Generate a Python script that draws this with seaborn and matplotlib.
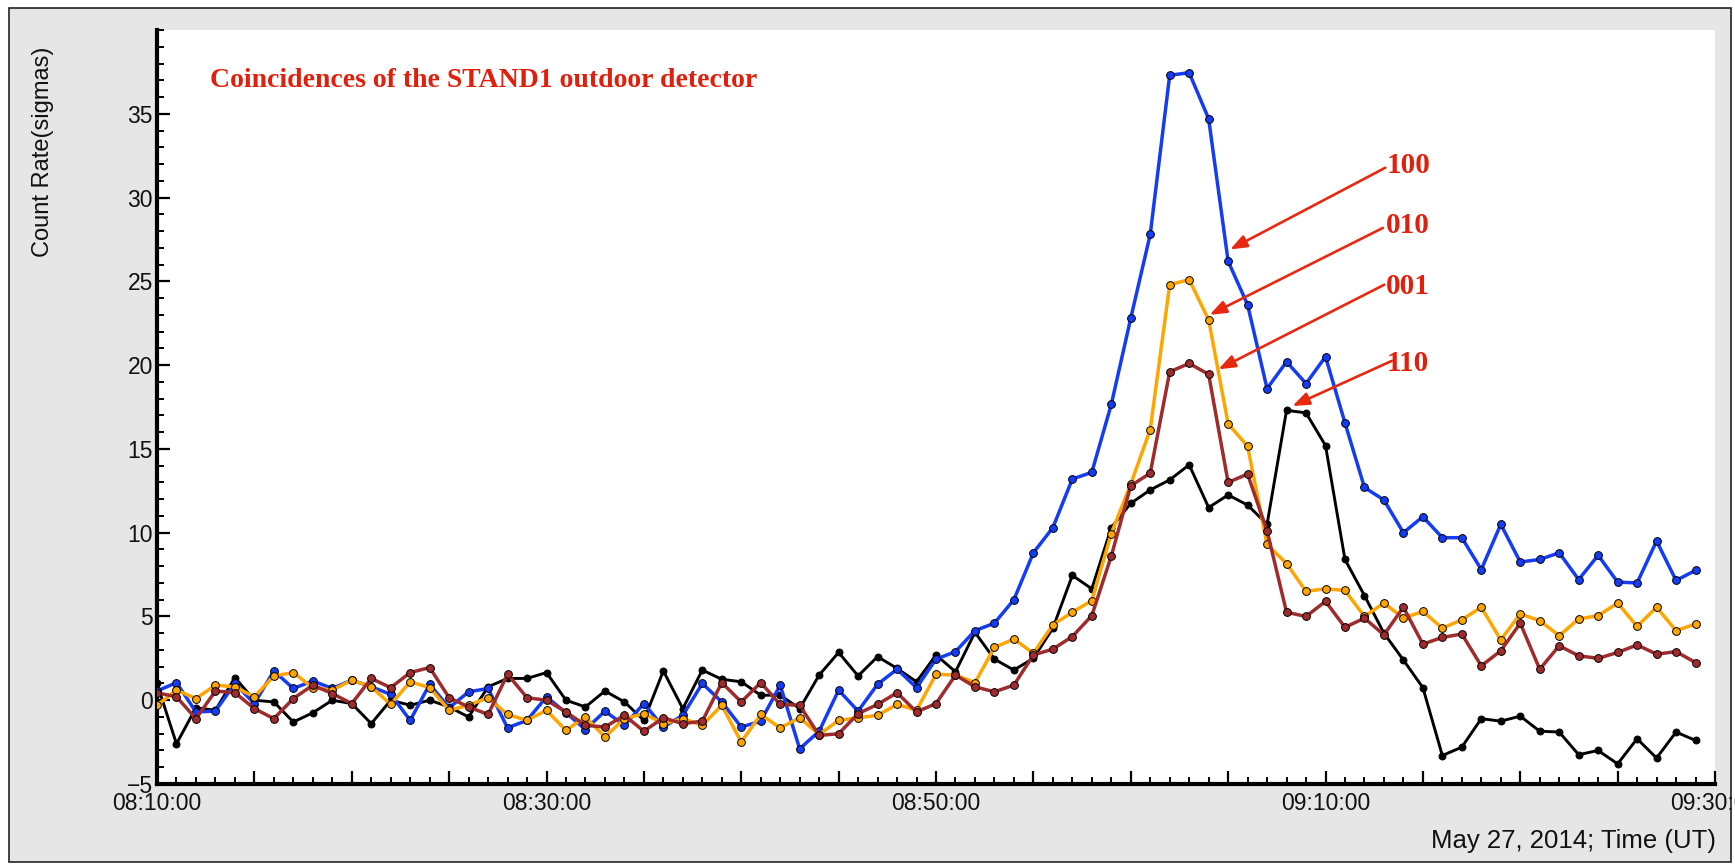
import numpy as np
import pandas as pd
import matplotlib
matplotlib.use("Agg")
import matplotlib.pyplot as plt
import matplotlib.dates as mdates
from matplotlib.patches import Rectangle
from matplotlib.ticker import MultipleLocator, FuncFormatter
import seaborn as sns

# ---------------- data ----------------
start_time = "2014-05-27 08:10:00"
n_points = 80
times = pd.date_range(start_time, periods=n_points, freq="1min")

rate_100 = [0.55, 1.05, -0.7, -0.65, 1.0, -0.2, 1.75, 0.7, 1.15, 0.7,
            1.2, 0.8, 0.35, -1.2, 0.95, -0.45, 0.5, 0.7, -1.65, -1.2,
            0.2, -0.75, -1.75, -0.65, -1.5, -0.2, -1.6, -0.9, 1.0, -0.1,
            -1.6, -1.25, 0.9, -2.9, -1.85, 0.6, -0.65, 0.95, 1.85, 0.75,
            2.45, 2.9, 4.15, 4.6, 6.0, 8.8, 10.3, 13.2, 13.6, 17.65,
            22.8, 27.8, 37.3, 37.45, 34.7, 26.2, 23.6, 18.6, 20.2, 18.9,
            20.5, 16.55, 12.7, 11.95, 10.0, 10.95, 9.7, 9.7, 7.8, 10.5,
            8.25, 8.4, 8.8, 7.2, 8.65, 7.05, 7.0, 9.5, 7.15, 7.75]

rate_010 = [-0.3, 0.6, 0.1, 0.9, 0.8, 0.2, 1.45, 1.65, 0.75, 0.6,
            1.2, 0.8, -0.25, 1.1, 0.75, -0.6, -0.3, 0.15, -0.85, -1.2,
            -0.6, -1.8, -1.0, -2.2, -1.1, -0.8, -1.4, -1.1, -1.5, -0.3,
            -2.5, -0.85, -1.65, -1.05, -2.05, -1.2, -1.05, -0.9, -0.25, -0.6,
            1.55, 1.5, 1.05, 3.15, 3.65, 2.8, 4.5, 5.25, 5.95, 9.95,
            12.9, 16.15, 24.8, 25.1, 22.7, 16.5, 15.15, 9.3, 8.15, 6.5,
            6.65, 6.55, 5.0, 5.8, 4.9, 5.3, 4.3, 4.8, 5.55, 3.6,
            5.15, 4.75, 3.85, 4.85, 5.05, 5.8, 4.4, 5.55, 4.15, 4.55]

rate_001 = [0.45, 0.2, -1.1, 0.55, 0.45, -0.5, -1.1, 0.1, 0.9, 0.4,
            -0.2, 1.3, 0.75, 1.65, 1.95, 0.15, -0.4, -0.85, 1.55, 0.15,
            0.0, -0.7, -1.5, -1.6, -0.9, -1.85, -1.05, -1.4, -1.25, 1.05,
            -0.1, 1.05, -0.25, -0.3, -2.1, -2.0, -0.8, -0.25, 0.45, -0.7,
            -0.2, 1.5, 0.8, 0.5, 0.9, 2.7, 3.05, 3.8, 5.05, 8.6,
            12.8, 13.55, 19.6, 20.1, 19.45, 13.0, 13.5, 10.1, 5.25, 5.0,
            5.9, 4.35, 4.9, 3.9, 5.55, 3.35, 3.75, 3.95, 2.05, 2.95,
            4.6, 1.85, 3.25, 2.65, 2.5, 2.85, 3.3, 2.75, 2.9, 2.25]

rate_110 = [1.0, -2.6, -0.45, -0.6, 1.35, 0.0, -0.1, -1.3, -0.75, 0.0,
            -0.2, -1.4, 0.0, -0.3, 0.0, -0.4, -1.0, 0.8, 1.3, 1.3,
            1.65, 0.0, -0.4, 0.55, -0.1, -1.2, 1.75, -0.5, 1.8, 1.25,
            1.1, 0.3, 0.3, -0.5, 1.5, 2.85, 1.45, 2.6, 1.9, 1.1,
            2.7, 1.7, 4.05, 2.45, 1.8, 2.5, 4.3, 7.45, 6.65, 10.3,
            11.75, 12.55, 13.15, 14.05, 11.5, 12.25, 11.65, 10.5, 17.3, 17.15,
            15.2, 8.4, 6.25, 4.0, 2.4, 0.75, -3.3, -2.8, -1.1, -1.25,
            -0.95, -1.85, -1.9, -3.25, -3.0, -3.8, -2.3, -3.45, -1.9, -2.4]

series_names = ["110", "100", "010", "001"]
series_colors = {"100": "#143cf5", "010": "#ffa500", "001": "#a02b2d", "110": "#000000"}

# annotation labels: arrow tip / tail (minutes after start, value) and text value
annot_labels = ["100", "010", "001", "110"]
annot_tip_min = [55.1, 54.05, 54.5, 58.3]
annot_tip_val = [26.9, 23.0, 19.75, 17.56]
annot_tail_min = [63.07, 62.95, 63.02, 63.4]
annot_tail_val = [31.78, 28.19, 24.8, 20.25]
annot_text_min = 63.12
annot_text_val = [31.45, 27.87, 24.25, 19.66]

title_text = "Coincidences of the STAND1 outdoor detector"
y_label = "Count Rate(sigmas)"
x_label = "May 27, 2014; Time (UT)"

df = pd.DataFrame({"time": times, "100": rate_100, "010": rate_010,
                   "001": rate_001, "110": rate_110})

# ---------------- style ----------------
sns.set_style("ticks")
plt.rcParams["font.family"] = ["Liberation Sans", "DejaVu Sans"]

W, H = 1735, 864
fig = plt.figure(figsize=(W / 100, H / 100), dpi=100)
fig.patch.set_facecolor("white")
fig.patches.append(Rectangle((9 / W, 2 / H), (1731 - 9) / W, (856 - 2) / H,
                             transform=fig.transFigure, facecolor="#e6e6e6",
                             edgecolor="#222222", linewidth=1.2, zorder=-10))

ax = fig.add_axes([157 / W, 1 - 784 / H, (1715 - 157) / W, (784 - 30) / H])
ax.set_facecolor("white")

for i, name in enumerate(series_names):
    is_black = name == "110"
    sns.lineplot(data=df, x="time", y=name, ax=ax, color=series_colors[name],
                 linewidth=2.1 if is_black else 2.5,
                 marker="o", markersize=5.0 if is_black else 5.6,
                 markerfacecolor=series_colors[name],
                 markeredgecolor="black", markeredgewidth=0.7,
                 zorder=3 + i)

ax.set_xlabel("")
ax.set_ylabel("")

t0 = times[0]
ax.set_xlim(mdates.date2num(t0), mdates.date2num(t0 + pd.Timedelta(minutes=80)))

ax.xaxis.set_major_locator(mdates.MinuteLocator(byminute=range(0, 60, 5)))
ax.xaxis.set_minor_locator(mdates.MinuteLocator())


def fmt_time(x, pos):
    d = mdates.num2date(x)
    return d.strftime("%H:%M:%S") if d.minute % 20 == 10 else ""


ax.xaxis.set_major_formatter(FuncFormatter(fmt_time))
ax.yaxis.set_minor_locator(MultipleLocator(1))
ax.set_yticks(np.arange(-5, 36, 5))
ax.set_ylim(-5, 40)

for s in ["top", "right"]:
    ax.spines[s].set_visible(False)
for s in ["left", "bottom"]:
    ax.spines[s].set_linewidth(3)
    ax.spines[s].set_color("black")

ax.tick_params(which="major", direction="in", length=9.5, width=1.6,
               color="black", labelsize=16.5, labelcolor="#111111")
ax.tick_params(which="minor", direction="in", length=5, width=1.4, color="black")
ax.tick_params(axis="x", which="major", pad=6)
ax.tick_params(axis="y", which="major", pad=3)

# title, labels
fig.text(210 / W, 1 - 87 / H, title_text, color="#e0200c", fontsize=20,
         fontweight="bold", family=["Liberation Serif", "DejaVu Serif"],
         ha="left", va="baseline")
fig.text(43 / W, 1 - 152 / H, y_label, rotation=90, fontsize=17,
         ha="center", va="center", color="#111111")
fig.text(1716 / W, 1 - 848 / H, x_label, fontsize=18.5, ha="right",
         va="baseline", color="#111111")

# annotations with arrows
for lab, tx, ty, sx, sy, vy in zip(annot_labels, annot_tip_min, annot_tip_val,
                                   annot_tail_min, annot_tail_val, annot_text_val):
    tip = (mdates.date2num(t0 + pd.Timedelta(minutes=tx)), ty)
    tail = (mdates.date2num(t0 + pd.Timedelta(minutes=sx)), sy)
    ax.annotate("", xy=tip, xytext=tail,
                arrowprops=dict(arrowstyle="-|>,head_length=1.0,head_width=0.38",
                                color="#e8280f", lw=1.9, shrinkA=0, shrinkB=0),
                zorder=10)
    ax.text(mdates.date2num(t0 + pd.Timedelta(minutes=annot_text_min)), vy, lab,
            color="#e0200c", fontsize=21, fontweight="bold",
            family=["Liberation Serif", "DejaVu Serif"],
            ha="left", va="baseline", zorder=10)

fig.savefig("out.png", dpi=100, facecolor=fig.get_facecolor())
